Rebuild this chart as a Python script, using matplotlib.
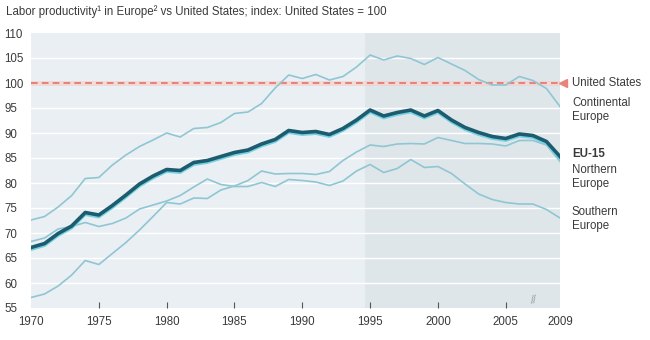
import matplotlib
matplotlib.use('Agg')
import matplotlib.pyplot as plt
import matplotlib.transforms as mtransforms

plt.rcParams['font.family'] = ['Liberation Sans', 'DejaVu Sans']

years = list(range(1970, 2010))

continental = [72.6, 73.3, 75.2, 77.5, 80.9, 81.1, 83.6, 85.6, 87.3, 88.6,
               90.0, 89.2, 90.9, 91.1, 92.1, 93.9, 94.2, 95.9, 99.0, 101.6,
               100.9, 101.7, 100.6, 101.3, 103.2, 105.6, 104.6, 105.4, 104.9, 103.7,
               105.1, 103.8, 102.5, 100.7, 99.6, 99.6, 101.3, 100.5, 98.9, 95.3]

eu15 = [67.1, 67.9, 69.9, 71.4, 74.1, 73.6, 75.5, 77.6, 79.8, 81.4,
        82.7, 82.5, 84.1, 84.5, 85.3, 86.1, 86.6, 87.8, 88.7, 90.5,
        90.1, 90.3, 89.7, 90.9, 92.6, 94.6, 93.4, 94.1, 94.6, 93.4,
        94.5, 92.6, 91.1, 90.1, 89.3, 88.9, 89.8, 89.5, 88.3, 85.3]

northern = [57.1, 57.8, 59.4, 61.6, 64.5, 63.7, 65.9, 68.1, 70.6, 73.3,
            76.1, 75.8, 77.0, 76.9, 78.6, 79.4, 80.5, 82.4, 81.8, 81.9,
            81.9, 81.7, 82.3, 84.5, 86.2, 87.6, 87.3, 87.8, 87.9, 87.8,
            89.1, 88.5, 87.9, 87.9, 87.8, 87.4, 88.5, 88.5, 87.6, 84.3]

southern = [68.3, 69.0, 70.8, 71.3, 72.1, 71.3, 71.9, 73.0, 74.8, 75.6,
            76.4, 77.5, 79.2, 80.8, 79.7, 79.3, 79.3, 80.1, 79.3, 80.7,
            80.5, 80.2, 79.5, 80.4, 82.4, 83.7, 82.1, 82.9, 84.7, 83.1,
            83.3, 81.9, 79.8, 77.8, 76.7, 76.1, 75.8, 75.8, 74.7, 73.0]

us_index = 100
x_ticks = [1970, 1975, 1980, 1985, 1990, 1995, 2000, 2005, 2009]
y_ticks = list(range(55, 111, 5))

title = 'Labor productivity\u00b9 in Europe\u00b2 vs United States; index: United States = 100'

light = '#8fc6d4'
dark = '#1d5b6e'
glow = '#74d2e2'
txt = '#3a3a3a'

fig = plt.figure(figsize=(6.5, 3.4), dpi=100)
ax = fig.add_axes([31 / 650, 1 - 308 / 340, 529 / 650, 275 / 340])
ax.set_facecolor('#eaeff3')
ax.set_xlim(1970, 2009)
ax.set_ylim(55, 110)

# darker band from 1995 on
ax.axvspan(1994.65, 2009, color='#dfe6ea', zorder=0, lw=0)

for v in y_ticks[1:-1]:
    ax.axhline(v, color='white', lw=1.0, zorder=1)

# US reference line
ax.axhline(us_index, color='#f3cfca', lw=3.5, zorder=2, alpha=0.7)
ax.axhline(us_index, color='#e2716a', lw=1.2, ls=(0, (4, 2.5)), zorder=3)
ax.plot([2009.25], [us_index], marker='<', color='#e8847a', ms=6,
        clip_on=False, zorder=4)

ax.plot(years, continental, color=light, lw=1.2, zorder=3)
ax.plot(years, southern, color=light, lw=1.2, zorder=3)
ax.plot(years, northern, color=light, lw=1.2, zorder=3)

off = mtransforms.offset_copy(ax.transData, fig=fig, x=0, y=-1.5, units='points')
ax.plot(years, eu15, color=glow, lw=2.0, zorder=4, transform=off)
ax.plot(years, eu15, color=dark, lw=2.6, zorder=5)

for s in ax.spines.values():
    s.set_visible(False)

ax.set_xticks(x_ticks)
ax.set_xticklabels([str(y) for y in x_ticks])
ax.tick_params(axis='x', direction='in', length=4, width=0.8, color='#555555',
               labelsize=8.3, labelcolor=txt, pad=6)
ticks = ax.xaxis.get_major_ticks()
ticks[0].tick1line.set_visible(False)
ticks[-1].tick1line.set_visible(False)

ax.set_yticks(y_ticks)
ax.set_yticklabels([str(v) for v in y_ticks])
ax.tick_params(axis='y', length=0, labelsize=8.3, labelcolor=txt, pad=19)
for lab in ax.get_yticklabels():
    lab.set_horizontalalignment('left')

# axis break mark
ax.text(2007.1, 56.6, '//', color='#999999', fontsize=8, ha='center', va='center',
        rotation=15, style='italic')

fig.text(6 / 650, 1 - 12 / 340, title, fontsize=8.3, color=txt, va='center')

lx = 572 / 650
fig.text(lx, 1 - 83 / 340, 'United States', fontsize=8.3, color=txt, va='center')
fig.text(lx, 1 - 110 / 340, 'Continental\nEurope', fontsize=8.3, color=txt,
         va='center', linespacing=1.3)
fig.text(lx, 1 - 154 / 340, 'EU-15', fontsize=8.3, color=txt, va='center',
         fontweight='bold')
fig.text(lx, 1 - 177 / 340, 'Northern\nEurope', fontsize=8.3, color=txt,
         va='center', linespacing=1.3)
fig.text(lx, 1 - 219 / 340, 'Southern\nEurope', fontsize=8.3, color=txt,
         va='center', linespacing=1.3)

fig.savefig('out.png', dpi=100, facecolor='white')
